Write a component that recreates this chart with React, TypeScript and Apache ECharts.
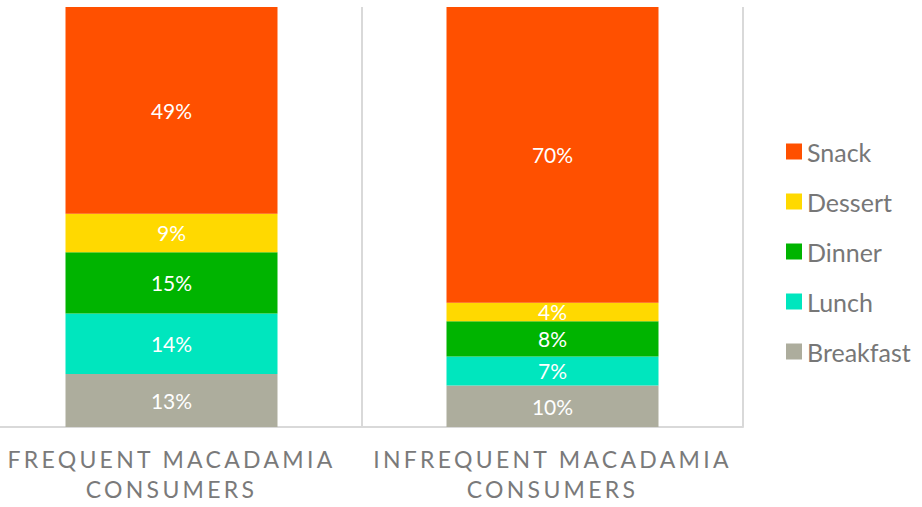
import React, { useEffect, useRef } from "react";
import * as echarts from "echarts";

const categories = ["FREQUENT MACADAMIA CONSUMERS", "INFREQUENT MACADAMIA CONSUMERS"];
const breakfast = [12.6, 9.9];
const lunch = [14.4, 6.9];
const dinner = [14.6, 8.4];
const dessert = [9.2, 4.4];
const snack = [49.2, 70.4];
const seriesNames = ["Breakfast", "Lunch", "Dinner", "Dessert", "Snack"];
const seriesColors = ["#ADAD9D", "#00E6BE", "#00B400", "#FFD900", "#FF5000"];
const legendOrder = ["Snack", "Dessert", "Dinner", "Lunch", "Breakfast"];

const FONT = "Lato";
const SHIFT = 19;

export default function App() {
  const ref = useRef<HTMLDivElement>(null);
  useEffect(() => {
    const chart = echarts.init(ref.current!, null, { renderer: "svg" });
    const values = [breakfast, lunch, dinner, dessert, snack];
    chart.setOption({
      animation: false,
      grid: { left: 0, right: 179, top: 7, bottom: 80, containLabel: false },
      legend: {
        data: legendOrder,
        orient: "vertical",
        left: 786 + SHIFT,
        top: 139,
        padding: 0,
        itemWidth: 16,
        itemHeight: 16,
        itemGap: 25,
        icon: "rect",
        textStyle: { color: "#777777", fontSize: 25, fontFamily: FONT, lineHeight: 24 },
      },
      xAxis: {
        type: "category",
        data: categories,
        axisLine: { lineStyle: { color: "#d9d9d9", width: 2 } },
        axisTick: { show: false },
        splitLine: { show: true, interval: 0, lineStyle: { color: "#d9d9d9", width: 2 } },
        axisLabel: {
          interval: 0,
          color: "#7a7a7a",
          fontSize: 23,
          lineHeight: 30,
          margin: 17,
          fontFamily: FONT + ", xcat",
          formatter: (v: string) => {
            const i = v.lastIndexOf(" ");
            return v.slice(0, i) + "\n" + v.slice(i + 1);
          },
        },
      },
      yAxis: { type: "value", min: 0, max: 100, show: false, splitLine: { show: false } },
      series: seriesNames.map((name, i) => ({
        name,
        type: "bar",
        stack: "total",
        barWidth: 212,
        data: values[i],
        itemStyle: { color: seriesColors[i] },
        label: {
          show: true,
          position: "inside",
          color: "#ffffff",
          fontSize: 21,
          fontFamily: FONT,
          formatter: (p: any) => Math.round(p.value) + "%",
        },
      })),
    });
    return () => chart.dispose();
  }, []);
  return (
    <>
      <style>{`body{margin:0} svg text[style*="xcat"]{letter-spacing:3.3px}`}</style>
      <div
        ref={ref}
        style={{ position: "absolute", left: -SHIFT, top: 0, width: 922 + SHIFT, height: 507 }}
      />
    </>
  );
}
